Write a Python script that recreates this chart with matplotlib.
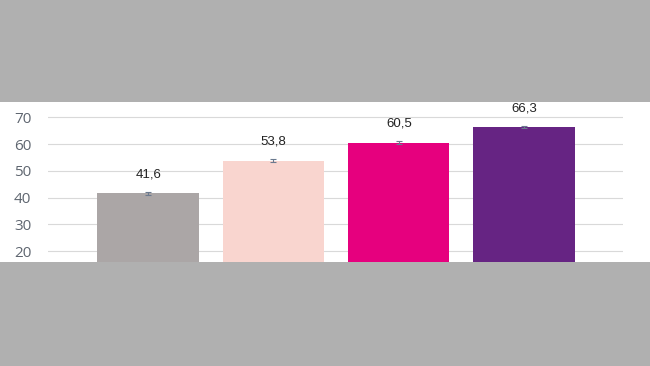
import matplotlib.pyplot as plt
from matplotlib.patches import Rectangle

# values
categories = ["A", "B", "C", "D"]
values = [41.6, 53.8, 60.5, 66.3]
errors = [0.5, 0.5, 0.5, 0.3]
labels = ["41,6", "53,8", "60,5", "66,3"]
colors = ["#aba6a6", "#f9d5cf", "#e6007e", "#662483"]
yticks = [20, 30, 40, 50, 60, 70]

fig = plt.figure(figsize=(6.5, 3.66), dpi=100)
fig.patch.set_facecolor("#b0b0b0")

# white strip the chart sits on
bot = 1 - 262 / 366
top = 1 - 102.5 / 366
strip = Rectangle((0, bot), 1, top - bot, transform=fig.transFigure,
                  facecolor="white", edgecolor="none")
strip.set_zorder(-5)
fig.add_artist(strip)

ax = fig.add_axes([48 / 650, bot, (623 - 48) / 650, top - bot])
ax.set_zorder(2)
ax.set_facecolor("none")

x = list(range(len(categories)))
ax.bar(x, values, width=0.81, color=colors, zorder=2)
ax.errorbar(x, values, yerr=errors, fmt="none", ecolor="#6b7a8f",
            elinewidth=0.8, capsize=2.5, capthick=0.8, zorder=3)

for xi, v, lab in zip(x, values, labels):
    ax.annotate(lab, (xi, v), xytext=(0, 13.5), textcoords="offset points",
                ha="center", va="center", fontsize=9.5,
                family="Liberation Sans", color="#222222")

ax.set_xlim(-0.80, 3.79)
ax.set_ylim(16, 75.5)
ax.set_yticks(yticks)
ax.set_yticklabels([str(t) for t in yticks], family="Open Sans",
                   fontsize=11, color="#5f6670")
ax.tick_params(axis="y", length=0, pad=12)
ax.set_xticks([])
ax.grid(axis="y", color="#d9d9d9", linewidth=0.8, zorder=0)
ax.set_axisbelow(True)
for s in ax.spines.values():
    s.set_visible(False)

fig.savefig("out.png", dpi=100, facecolor=fig.get_facecolor())
